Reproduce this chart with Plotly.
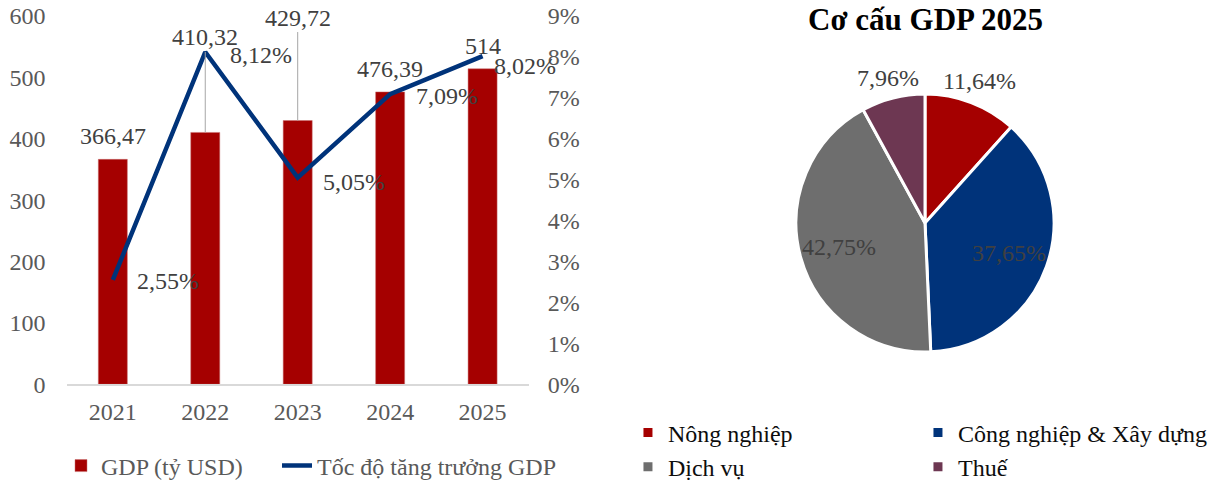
import math
import plotly.graph_objects as go

# ---------------- data ----------------
years = ["2021", "2022", "2023", "2024", "2025"]
gdp_usd_bn = [366.47, 410.32, 429.72, 476.39, 514]
growth_pct = [2.55, 8.12, 5.05, 7.09, 8.02]
gdp_ticks = [0, 100, 200, 300, 400, 500, 600]
growth_ticks = [0, 1, 2, 3, 4, 5, 6, 7, 8, 9]

sectors = ["Nông nghiệp", "Công nghiệp & Xây dựng", "Dịch vụ", "Thuế"]
shares_2025 = [11.64, 37.65, 42.75, 7.96]

# ---------------- style ----------------
W, H = 1209, 484
ML, MR = 0, 2
GW = W - ML - MR
FONT = "Liberation Serif, Times New Roman, serif"
TICK_COLOR = "#595959"
LABEL_COLOR = "#404040"
RED, NAVY, GRAY, PURPLE = "#A50000", "#00337A", "#6E6E6E", "#6D3752"

PIE_CX, PIE_CY, PIE_R = 925, 223, 129   # px
pie_label_radius = [1.18, 0.69, 0.69, 1.16]  # fraction of pie radius


def fx(p):
    return (p - ML) / GW


def fy(p):
    return 1 - p / H


def vn(v, dec=None):
    s = f"{v:.{dec}f}" if dec is not None else f"{v:g}"
    return s.replace(".", ",")


fig = go.Figure()

fig.add_trace(go.Bar(
    x=years, y=gdp_usd_bn, name="GDP (tỷ USD)",
    marker=dict(color=RED, line=dict(color="#C87070", width=0.5)),
    xaxis="x", yaxis="y", legend="legend", hoverinfo="x+y",
))
fig.add_trace(go.Scatter(
    x=years, y=growth_pct, name="Tốc độ tăng trưởng GDP", mode="lines",
    line=dict(color=NAVY, width=4.5),
    xaxis="x", yaxis="y2", legend="legend3",
))
fig.add_trace(go.Pie(
    labels=sectors, values=shares_2025, sort=False, direction="clockwise",
    rotation=0,
    marker=dict(colors=[RED, NAVY, GRAY, PURPLE], line=dict(color="white", width=3)),
    textinfo="none",
    domain=dict(x=[fx(PIE_CX - PIE_R), fx(PIE_CX + PIE_R)],
                y=[fy(PIE_CY + PIE_R), fy(PIE_CY - PIE_R)]),
    legend="legend2", showlegend=True,
))

label_font = dict(family=FONT, size=24, color=LABEL_COLOR)
annotations = []

# bar value labels (category index on the x axis, value on the y axis)
bar_label_lift = [8, None, None, 8, 8]
bar_label_leader = [None, -95, -103, None, None]
for i, (v, lift, lead) in enumerate(zip(gdp_usd_bn, bar_label_lift, bar_label_leader)):
    if lead is None:
        annotations.append(dict(x=i, y=v, xref="x", yref="y", text=vn(v),
                                showarrow=False, yanchor="bottom", yshift=lift,
                                font=label_font))
    else:
        annotations.append(dict(x=i, y=v, xref="x", yref="y", text=vn(v),
                                showarrow=True, arrowhead=0, arrowwidth=1,
                                arrowcolor="#A6A6A6", ax=0, ay=lead, standoff=0,
                                font=label_font))

# growth labels (px offsets from the point)
growth_dx = [22, 23, 23, 24, 9]
growth_dy = [-1, -3, -4, -2, -10]
for i, (v, dx, dy) in enumerate(zip(growth_pct, growth_dx, growth_dy)):
    annotations.append(dict(x=i, y=v, xref="x", yref="y2", text=vn(v, 2) + "%",
                            showarrow=False, xanchor="left", yanchor="middle",
                            xshift=dx, yshift=dy, font=label_font))

# pie labels at each slice's mid angle (clockwise from 12 o'clock)
total = sum(shares_2025)
cum = 0.0
for v, rf in zip(shares_2025, pie_label_radius):
    mid = (cum + v / 2) / total * 2 * math.pi
    cum += v
    px_ = PIE_CX + math.sin(mid) * rf * PIE_R
    py_ = PIE_CY - math.cos(mid) * rf * PIE_R
    annotations.append(dict(x=fx(px_), y=fy(py_), xref="paper", yref="paper",
                            text=vn(v, 2) + "%", showarrow=False,
                            xanchor="center", yanchor="middle", font=label_font))

annotations.append(dict(x=fx(PIE_CX), y=fy(19), xref="paper", yref="paper",
                        text="<b>Cơ cấu GDP 2025</b>", showarrow=False,
                        xanchor="center", yanchor="middle",
                        font=dict(family=FONT, size=31, color="#000000")))

axis_font = dict(family=FONT, size=24, color=TICK_COLOR)

fig.update_layout(
    width=W, height=H, template="none",
    margin=dict(l=ML, r=MR, t=0, b=0, autoexpand=False),
    paper_bgcolor="white", plot_bgcolor="rgba(0,0,0,0)",
    separators=",.",
    font=dict(family=FONT, size=24, color=TICK_COLOR),
    bargap=0.686,
    xaxis=dict(domain=[fx(66.6), fx(528.8)], type="category", range=[-0.5, 4.5],
               showgrid=False, zeroline=False, showline=True, linecolor="#D9D9D9",
               linewidth=1.5, ticks="", tickfont=axis_font, ticklabelstandoff=5,
               automargin=False, fixedrange=True),
    yaxis=dict(domain=[fy(384.3), fy(16)], range=[0, 600], tickvals=gdp_ticks,
               showgrid=False, zeroline=False, showline=False, ticks="",
               tickfont=axis_font, ticklabelstandoff=20, automargin=False),
    yaxis2=dict(overlaying="y", side="right", range=[0, 9], tickvals=growth_ticks,
                ticktext=[f"{t}%" for t in growth_ticks],
                showgrid=False, zeroline=False, showline=False, ticks="",
                tickfont=axis_font, ticklabelstandoff=18, automargin=False),
    legend=dict(orientation="h", x=fx(61), xanchor="left", y=fy(466), yanchor="middle",
                font=dict(family=FONT, size=24, color=TICK_COLOR),
                bgcolor="rgba(0,0,0,0)", itemclick=False),
    legend3=dict(orientation="h", x=fx(277), xanchor="left", y=fy(466), yanchor="middle",
                 font=dict(family=FONT, size=24, color=TICK_COLOR),
                 bgcolor="rgba(0,0,0,0)", itemclick=False),
    legend2=dict(orientation="h", x=1.0008, xanchor="right", y=fy(450), yanchor="middle",
                 entrywidth=245, entrywidthmode="pixels",
                 font=dict(family=FONT, size=24, color="#0D0D0D"),
                 bgcolor="rgba(0,0,0,0)", itemclick=False),
    annotations=annotations,
    showlegend=True,
)

fig.write_html("out.html")
